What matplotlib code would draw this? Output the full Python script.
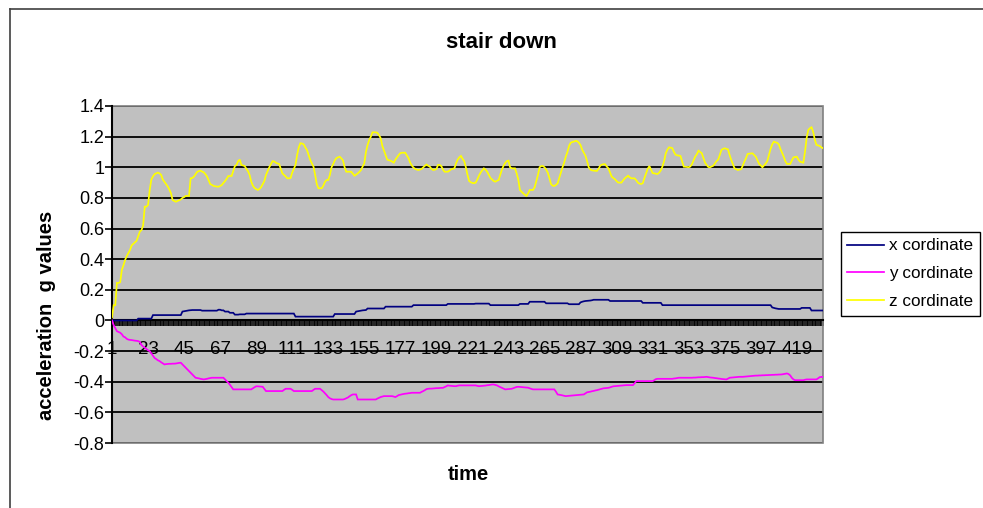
import matplotlib
matplotlib.use("Agg")
import matplotlib.pyplot as plt
from matplotlib.lines import Line2D
from matplotlib.patches import Rectangle
from matplotlib.ticker import FixedLocator, FixedFormatter, NullFormatter

plt.rcParams['font.family'] = ['Liberation Sans', 'DejaVu Sans']

title = "stair down"
x_label = "time"
y_label = "acceleration  g values"
series_names = ["x cordinate", "y cordinate", "z cordinate"]
series_colors = ["#000080", "#FF00FF", "#FFFF00"]

x_tick_values = [1, 23, 45, 67, 89, 111, 133, 155, 177, 199, 221, 243, 265,
                 287, 309, 331, 353, 375, 397, 419]
y_tick_values = [-0.8, -0.6, -0.4, -0.2, 0, 0.2, 0.4, 0.6, 0.8, 1.0, 1.2, 1.4]
y_tick_labels = ["-0.8", "-0.6", "-0.4", "-0.2", "0", "0.2", "0.4", "0.6",
                 "0.8", "1", "1.2", "1.4"]

# acceleration along x (g)
x_coord = [
    0.0, 0.0, 0.0, 0.0, 0.0, 0.0, 0.0, 0.0, 0.0, 0.0,
    0.0, 0.0, 0.0, 0.0, 0.0, 0.0, 0.012, 0.012, 0.012, 0.012,
    0.012, 0.012, 0.012, 0.012, 0.012, 0.035, 0.035, 0.035, 0.035, 0.035,
    0.035, 0.035, 0.035, 0.035, 0.035, 0.035, 0.035, 0.035, 0.035, 0.035,
    0.035, 0.035, 0.035, 0.058, 0.06, 0.062, 0.064, 0.066, 0.067, 0.068,
    0.068, 0.068, 0.068, 0.068, 0.068, 0.064, 0.064, 0.064, 0.064, 0.064,
    0.064, 0.064, 0.064, 0.064, 0.064, 0.07, 0.07, 0.066, 0.066, 0.058,
    0.058, 0.058, 0.05, 0.05, 0.05, 0.038, 0.038, 0.038, 0.04, 0.04,
    0.04, 0.04, 0.045, 0.045, 0.045, 0.045, 0.045, 0.045, 0.045, 0.045,
    0.045, 0.045, 0.045, 0.045, 0.045, 0.045, 0.045, 0.045, 0.045, 0.045,
    0.045, 0.045, 0.045, 0.045, 0.045, 0.045, 0.045, 0.045, 0.045, 0.045,
    0.045, 0.045, 0.025, 0.025, 0.025, 0.025, 0.025, 0.025, 0.025, 0.025,
    0.025, 0.025, 0.025, 0.025, 0.025, 0.025, 0.025, 0.025, 0.025, 0.025,
    0.025, 0.025, 0.025, 0.025, 0.025, 0.025, 0.042, 0.042, 0.042, 0.042,
    0.042, 0.042, 0.042, 0.042, 0.042, 0.042, 0.042, 0.042, 0.042, 0.058,
    0.06, 0.062, 0.064, 0.066, 0.067, 0.068, 0.078, 0.078, 0.078, 0.078,
    0.078, 0.078, 0.078, 0.078, 0.078, 0.078, 0.078, 0.09, 0.09, 0.09,
    0.09, 0.09, 0.09, 0.09, 0.09, 0.09, 0.09, 0.09, 0.09, 0.09,
    0.09, 0.09, 0.09, 0.09, 0.1, 0.1, 0.1, 0.1, 0.1, 0.1,
    0.1, 0.1, 0.1, 0.1, 0.1, 0.1, 0.1, 0.1, 0.1, 0.1,
    0.1, 0.1, 0.1, 0.1, 0.1, 0.108, 0.108, 0.108, 0.108, 0.108,
    0.108, 0.108, 0.108, 0.108, 0.108, 0.108, 0.108, 0.108, 0.108, 0.108,
    0.108, 0.108, 0.11, 0.11, 0.11, 0.11, 0.11, 0.11, 0.11, 0.11,
    0.11, 0.1, 0.1, 0.1, 0.1, 0.1, 0.1, 0.1, 0.1, 0.1,
    0.1, 0.1, 0.1, 0.1, 0.1, 0.1, 0.1, 0.1, 0.1, 0.108,
    0.108, 0.108, 0.108, 0.108, 0.108, 0.122, 0.122, 0.122, 0.122, 0.122,
    0.122, 0.122, 0.122, 0.122, 0.122, 0.112, 0.112, 0.112, 0.112, 0.112,
    0.112, 0.112, 0.112, 0.112, 0.112, 0.112, 0.112, 0.112, 0.112, 0.106,
    0.106, 0.106, 0.106, 0.106, 0.106, 0.106, 0.118, 0.122, 0.125, 0.127,
    0.128, 0.129, 0.13, 0.132, 0.135, 0.135, 0.135, 0.135, 0.135, 0.135,
    0.135, 0.135, 0.135, 0.135, 0.127, 0.127, 0.127, 0.127, 0.127, 0.127,
    0.127, 0.127, 0.127, 0.127, 0.127, 0.127, 0.127, 0.127, 0.127, 0.127,
    0.127, 0.127, 0.127, 0.127, 0.115, 0.115, 0.115, 0.115, 0.115, 0.115,
    0.115, 0.115, 0.115, 0.115, 0.115, 0.115, 0.1, 0.1, 0.1, 0.1,
    0.1, 0.1, 0.1, 0.1, 0.1, 0.1, 0.1, 0.1, 0.1, 0.1,
    0.1, 0.1, 0.1, 0.1, 0.1, 0.1, 0.1, 0.1, 0.1, 0.1,
    0.1, 0.1, 0.1, 0.1, 0.1, 0.1, 0.1, 0.1, 0.1, 0.1,
    0.1, 0.1, 0.1, 0.1, 0.1, 0.1, 0.1, 0.1, 0.1, 0.1,
    0.1, 0.1, 0.1, 0.1, 0.1, 0.1, 0.1, 0.1, 0.1, 0.1,
    0.1, 0.1, 0.1, 0.1, 0.1, 0.1, 0.1, 0.1, 0.1, 0.1,
    0.1, 0.1, 0.1, 0.085, 0.082, 0.079, 0.077, 0.075, 0.075, 0.075,
    0.075, 0.075, 0.075, 0.075, 0.075, 0.075, 0.075, 0.075, 0.075, 0.075,
    0.075, 0.082, 0.082, 0.082, 0.082, 0.082, 0.082, 0.065, 0.065, 0.065,
    0.065, 0.065, 0.065, 0.065, 0.065,
]

# acceleration along y (g)
y_coord = [
    0.0, -0.03, -0.05, -0.07, -0.075, -0.08, -0.09, -0.105, -0.11, -0.12,
    -0.125, -0.127, -0.128, -0.13, -0.132, -0.133, -0.135, -0.14, -0.16, -0.17,
    -0.178, -0.186, -0.195, -0.2, -0.215, -0.23, -0.245, -0.252, -0.26, -0.265,
    -0.273, -0.28, -0.287, -0.285, -0.284, -0.283, -0.283, -0.282, -0.282, -0.281,
    -0.279, -0.277, -0.276, -0.287, -0.298, -0.309, -0.32, -0.33, -0.341, -0.352,
    -0.363, -0.374, -0.376, -0.378, -0.381, -0.383, -0.385, -0.383, -0.381, -0.378,
    -0.376, -0.374, -0.374, -0.374, -0.374, -0.374, -0.374, -0.374, -0.374, -0.385,
    -0.396, -0.407, -0.42, -0.435, -0.45, -0.45, -0.45, -0.45, -0.45, -0.45,
    -0.45, -0.45, -0.45, -0.45, -0.45, -0.45, -0.443, -0.436, -0.43, -0.43,
    -0.431, -0.432, -0.433, -0.447, -0.461, -0.461, -0.461, -0.461, -0.461, -0.461,
    -0.461, -0.461, -0.461, -0.461, -0.461, -0.453, -0.446, -0.446, -0.446, -0.446,
    -0.453, -0.461, -0.461, -0.461, -0.461, -0.461, -0.461, -0.461, -0.461, -0.461,
    -0.461, -0.461, -0.461, -0.453, -0.446, -0.446, -0.446, -0.446, -0.455, -0.464,
    -0.475, -0.487, -0.5, -0.508, -0.513, -0.516, -0.516, -0.516, -0.516, -0.516,
    -0.516, -0.516, -0.513, -0.508, -0.503, -0.495, -0.488, -0.483, -0.483, -0.483,
    -0.516, -0.516, -0.516, -0.516, -0.516, -0.516, -0.516, -0.516, -0.516, -0.516,
    -0.516, -0.516, -0.51, -0.505, -0.5, -0.497, -0.494, -0.494, -0.494, -0.494,
    -0.494, -0.494, -0.497, -0.5, -0.494, -0.487, -0.485, -0.482, -0.48, -0.478,
    -0.477, -0.475, -0.474, -0.472, -0.472, -0.472, -0.472, -0.472, -0.472, -0.466,
    -0.461, -0.455, -0.448, -0.446, -0.445, -0.445, -0.444, -0.443, -0.442, -0.442,
    -0.441, -0.44, -0.44, -0.435, -0.43, -0.424, -0.426, -0.427, -0.428, -0.429,
    -0.429, -0.426, -0.424, -0.424, -0.424, -0.424, -0.424, -0.424, -0.424, -0.424,
    -0.424, -0.424, -0.424, -0.427, -0.429, -0.428, -0.427, -0.426, -0.425, -0.423,
    -0.422, -0.42, -0.418, -0.418, -0.421, -0.424, -0.43, -0.435, -0.44, -0.445,
    -0.45, -0.449, -0.448, -0.447, -0.446, -0.442, -0.438, -0.434, -0.433, -0.434,
    -0.435, -0.436, -0.437, -0.438, -0.439, -0.443, -0.447, -0.45, -0.45, -0.45,
    -0.45, -0.45, -0.45, -0.45, -0.45, -0.45, -0.45, -0.45, -0.45, -0.45,
    -0.45, -0.465, -0.483, -0.485, -0.487, -0.489, -0.492, -0.494, -0.493, -0.492,
    -0.491, -0.49, -0.489, -0.488, -0.487, -0.486, -0.485, -0.484, -0.483, -0.476,
    -0.469, -0.467, -0.465, -0.462, -0.46, -0.457, -0.455, -0.452, -0.449, -0.446,
    -0.443, -0.442, -0.441, -0.44, -0.437, -0.433, -0.43, -0.429, -0.428, -0.427,
    -0.426, -0.425, -0.424, -0.423, -0.422, -0.422, -0.422, -0.422, -0.422, -0.41,
    -0.396, -0.396, -0.396, -0.396, -0.396, -0.396, -0.396, -0.396, -0.396, -0.396,
    -0.396, -0.39, -0.383, -0.381, -0.381, -0.381, -0.381, -0.381, -0.381, -0.381,
    -0.381, -0.381, -0.381, -0.379, -0.378, -0.376, -0.374, -0.374, -0.374, -0.374,
    -0.374, -0.374, -0.374, -0.374, -0.374, -0.373, -0.373, -0.372, -0.371, -0.371,
    -0.37, -0.37, -0.369, -0.368, -0.37, -0.372, -0.373, -0.374, -0.376, -0.377,
    -0.379, -0.38, -0.382, -0.383, -0.384, -0.385, -0.38, -0.374, -0.373, -0.372,
    -0.371, -0.37, -0.369, -0.368, -0.368, -0.368, -0.367, -0.366, -0.365, -0.364,
    -0.363, -0.362, -0.361, -0.36, -0.36, -0.359, -0.359, -0.358, -0.358, -0.357,
    -0.357, -0.356, -0.356, -0.355, -0.355, -0.354, -0.354, -0.353, -0.353, -0.352,
    -0.35, -0.348, -0.346, -0.35, -0.359, -0.375, -0.385, -0.39, -0.39, -0.39,
    -0.39, -0.39, -0.39, -0.387, -0.385, -0.385, -0.385, -0.385, -0.385, -0.385,
    -0.385, -0.378, -0.37, -0.369, -0.368,
]

# acceleration along z (g)
z_coord = [
    0.02, 0.10, 0.10, 0.245, 0.245, 0.25, 0.33, 0.36, 0.395, 0.42,
    0.44, 0.46, 0.49, 0.50, 0.51, 0.52, 0.55, 0.58, 0.59, 0.62,
    0.743, 0.743, 0.754, 0.85, 0.92, 0.94, 0.955, 0.96, 0.965, 0.96,
    0.95, 0.92, 0.905, 0.89, 0.875, 0.855, 0.83, 0.786, 0.78, 0.775,
    0.78, 0.785, 0.79, 0.80, 0.805, 0.813, 0.813, 0.813, 0.928, 0.93,
    0.939, 0.955, 0.97, 0.975, 0.978, 0.972, 0.967, 0.955, 0.94, 0.915,
    0.89, 0.885, 0.878, 0.876, 0.874, 0.873, 0.878, 0.884, 0.898, 0.91,
    0.925, 0.943, 0.943, 0.943, 0.975, 1.008, 1.015, 1.04, 1.05, 1.015,
    1.012, 1.008, 0.99, 0.975, 0.95, 0.906, 0.88, 0.865, 0.858, 0.852,
    0.858, 0.87, 0.89, 0.91, 0.95, 0.975, 1.0, 1.02, 1.04, 1.038,
    1.03, 1.025, 1.022, 0.99, 0.96, 0.95, 0.94, 0.928, 0.928, 0.93,
    0.965, 0.99, 1.015, 1.08, 1.13, 1.157, 1.155, 1.15, 1.13, 1.113,
    1.08, 1.048, 1.025, 1.004, 0.95, 0.89, 0.863, 0.863, 0.863, 0.88,
    0.905, 0.917, 0.917, 0.95, 1.0, 1.02, 1.045, 1.06, 1.065, 1.069,
    1.058, 1.045, 1.0, 0.971, 0.971, 0.971, 0.971, 0.958, 0.945, 0.952,
    0.96, 0.97, 0.982, 1.005, 1.026, 1.1, 1.145, 1.178, 1.2, 1.228,
    1.228, 1.228, 1.225, 1.21, 1.19, 1.14, 1.11, 1.08, 1.05, 1.046,
    1.043, 1.037, 1.03, 1.05, 1.065, 1.08, 1.092, 1.095, 1.095, 1.095,
    1.077, 1.059, 1.03, 1.012, 0.998, 0.99, 0.985, 0.982, 0.985, 0.989,
    1.0, 1.01, 1.018, 1.01, 1.004, 0.99, 0.982, 0.984, 0.988, 1.015,
    1.015, 1.008, 0.985, 0.971, 0.971, 0.971, 0.978, 0.987, 0.99, 0.993,
    1.025, 1.05, 1.065, 1.074, 1.055, 1.04, 1.0, 0.95, 0.91, 0.902,
    0.898, 0.896, 0.9, 0.92, 0.945, 0.965, 0.98, 0.993, 0.985, 0.971,
    0.95, 0.93, 0.92, 0.91, 0.906, 0.912, 0.917, 0.95, 0.985, 1.01,
    1.028, 1.04, 1.043, 1.0, 0.993, 0.993, 0.993, 0.96, 0.92, 0.852,
    0.84, 0.83, 0.82, 0.813, 0.83, 0.852, 0.852, 0.852, 0.87, 0.91,
    0.95, 1.0, 1.008, 1.008, 1.0, 0.985, 0.965, 0.93, 0.89, 0.88,
    0.878, 0.885, 0.895, 0.93, 0.965, 1.0, 1.03, 1.07, 1.1, 1.14,
    1.16, 1.165, 1.168, 1.172, 1.17, 1.16, 1.145, 1.115, 1.095, 1.075,
    1.04, 1.0, 0.985, 0.98, 0.978, 0.977, 0.976, 0.99, 1.01, 1.017,
    1.02, 1.02, 1.005, 0.993, 0.965, 0.939, 0.93, 0.922, 0.91, 0.9,
    0.9, 0.9, 0.915, 0.928, 0.936, 0.945, 0.935, 0.928, 0.928, 0.928,
    0.915, 0.9, 0.893, 0.891, 0.896, 0.93, 0.96, 0.99, 1.008, 0.985,
    0.962, 0.96, 0.958, 0.956, 0.965, 0.98, 1.005, 1.04, 1.09, 1.115,
    1.13, 1.128, 1.125, 1.1, 1.082, 1.078, 1.076, 1.074, 1.04, 1.004,
    1.003, 1.002, 1.0, 1.005, 1.02, 1.045, 1.07, 1.085, 1.108, 1.1,
    1.092, 1.06, 1.03, 1.015, 1.002, 1.0, 1.005, 1.01, 1.025, 1.04,
    1.05, 1.08, 1.113, 1.12, 1.124, 1.12, 1.117, 1.08, 1.048, 1.02,
    0.993, 0.988, 0.982, 0.985, 0.987, 1.01, 1.037, 1.06, 1.087, 1.089,
    1.09, 1.091, 1.08, 1.069, 1.045, 1.022, 1.012, 1.0, 1.012, 1.024,
    1.04, 1.08, 1.12, 1.15, 1.167, 1.163, 1.16, 1.15, 1.12, 1.095,
    1.07, 1.04, 1.022, 1.022, 1.022, 1.045, 1.065, 1.067, 1.069, 1.05,
    1.037, 1.033, 1.03, 1.1, 1.19, 1.243, 1.255, 1.261, 1.232, 1.18,
    1.146, 1.143, 1.139, 1.13, 1.124,
]

W, H = 983, 508
fig = plt.figure(figsize=(W / 100, H / 100), dpi=100)
fig.patch.set_facecolor("white")

# outer chart frame (left and top edges)
frame_col = "#404040"
fig.add_artist(Line2D([10 / W, 10 / W], [0, 1 - 9 / H], color=frame_col, lw=1.2))
fig.add_artist(Line2D([10 / W, 1], [1 - 9 / H, 1 - 9 / H], color=frame_col, lw=1.2))

ax = fig.add_axes([112 / W, 1 - 443 / H, (823 - 112) / W, (443 - 106) / H])
ax.set_facecolor("#C0C0C0")

n_points = len(z_coord)
ax.set_xlim(1, n_points)
ax.set_ylim(-0.8, 1.4)

# horizontal gridlines
ax.yaxis.set_major_locator(FixedLocator(y_tick_values))
ax.yaxis.set_major_formatter(FixedFormatter(y_tick_labels))
ax.grid(True, axis="y", color="black", lw=1.3, zorder=1)
ax.set_axisbelow(True)

# plot area border
ax.add_patch(Rectangle((0, 0), 1, 1, transform=ax.transAxes, fill=False,
                       edgecolor="#808080", lw=1.2, zorder=1.5, clip_on=False))
for side in ("top", "right"):
    ax.spines[side].set_visible(False)
ax.spines["left"].set_color("black")
ax.spines["left"].set_linewidth(1.5)
ax.spines["bottom"].set_position(("data", 0))
ax.spines["bottom"].set_color("black")
ax.spines["bottom"].set_linewidth(1.5)
ax.spines["bottom"].set_zorder(2.5)

# category axis: a tick at every sample, a label every 22 samples
ax.xaxis.set_major_locator(FixedLocator(x_tick_values))
ax.xaxis.set_major_formatter(FixedFormatter([str(v) for v in x_tick_values]))
ax.xaxis.set_minor_locator(FixedLocator(list(range(1, n_points + 1))))
ax.xaxis.set_minor_formatter(NullFormatter())
ax.tick_params(axis="x", which="both", direction="out", length=4.5, width=1.15,
               color="black")
ax.tick_params(axis="x", which="major", labelsize=13.5, pad=10.5)
ax.tick_params(axis="y", direction="out", length=5, width=1.2, color="black",
               labelsize=13, pad=0.5)

lines = []
for vals, name, col in zip((x_coord, y_coord, z_coord), series_names, series_colors):
    xs = list(range(1, len(vals) + 1))
    ln, = ax.plot(xs, vals, color=col, lw=1.25, label=name, zorder=3,
                  solid_joinstyle="miter")
    lines.append(ln)

fig.legend(handles=lines, labels=series_names, loc="upper left",
           bbox_to_anchor=(841 / W, 1 - 232 / H), frameon=True, fancybox=False,
           edgecolor="black", facecolor="white", framealpha=1, fontsize=12.3,
           handlelength=2.15, handletextpad=0.3, labelspacing=0.75,
           borderpad=0.38, borderaxespad=0)

fig.text(501 / W, 1 - 42 / H, title, ha="center", va="center", fontsize=16,
         fontweight="bold")
fig.text(468 / W, 1 - 474 / H, x_label, ha="center", va="center", fontsize=14.5,
         fontweight="bold")
fig.text(47 / W, 1 - 315 / H, y_label, ha="center", va="center", fontsize=14.5,
         fontweight="bold", rotation=90)

fig.savefig("out.png", dpi=100, facecolor="white")
